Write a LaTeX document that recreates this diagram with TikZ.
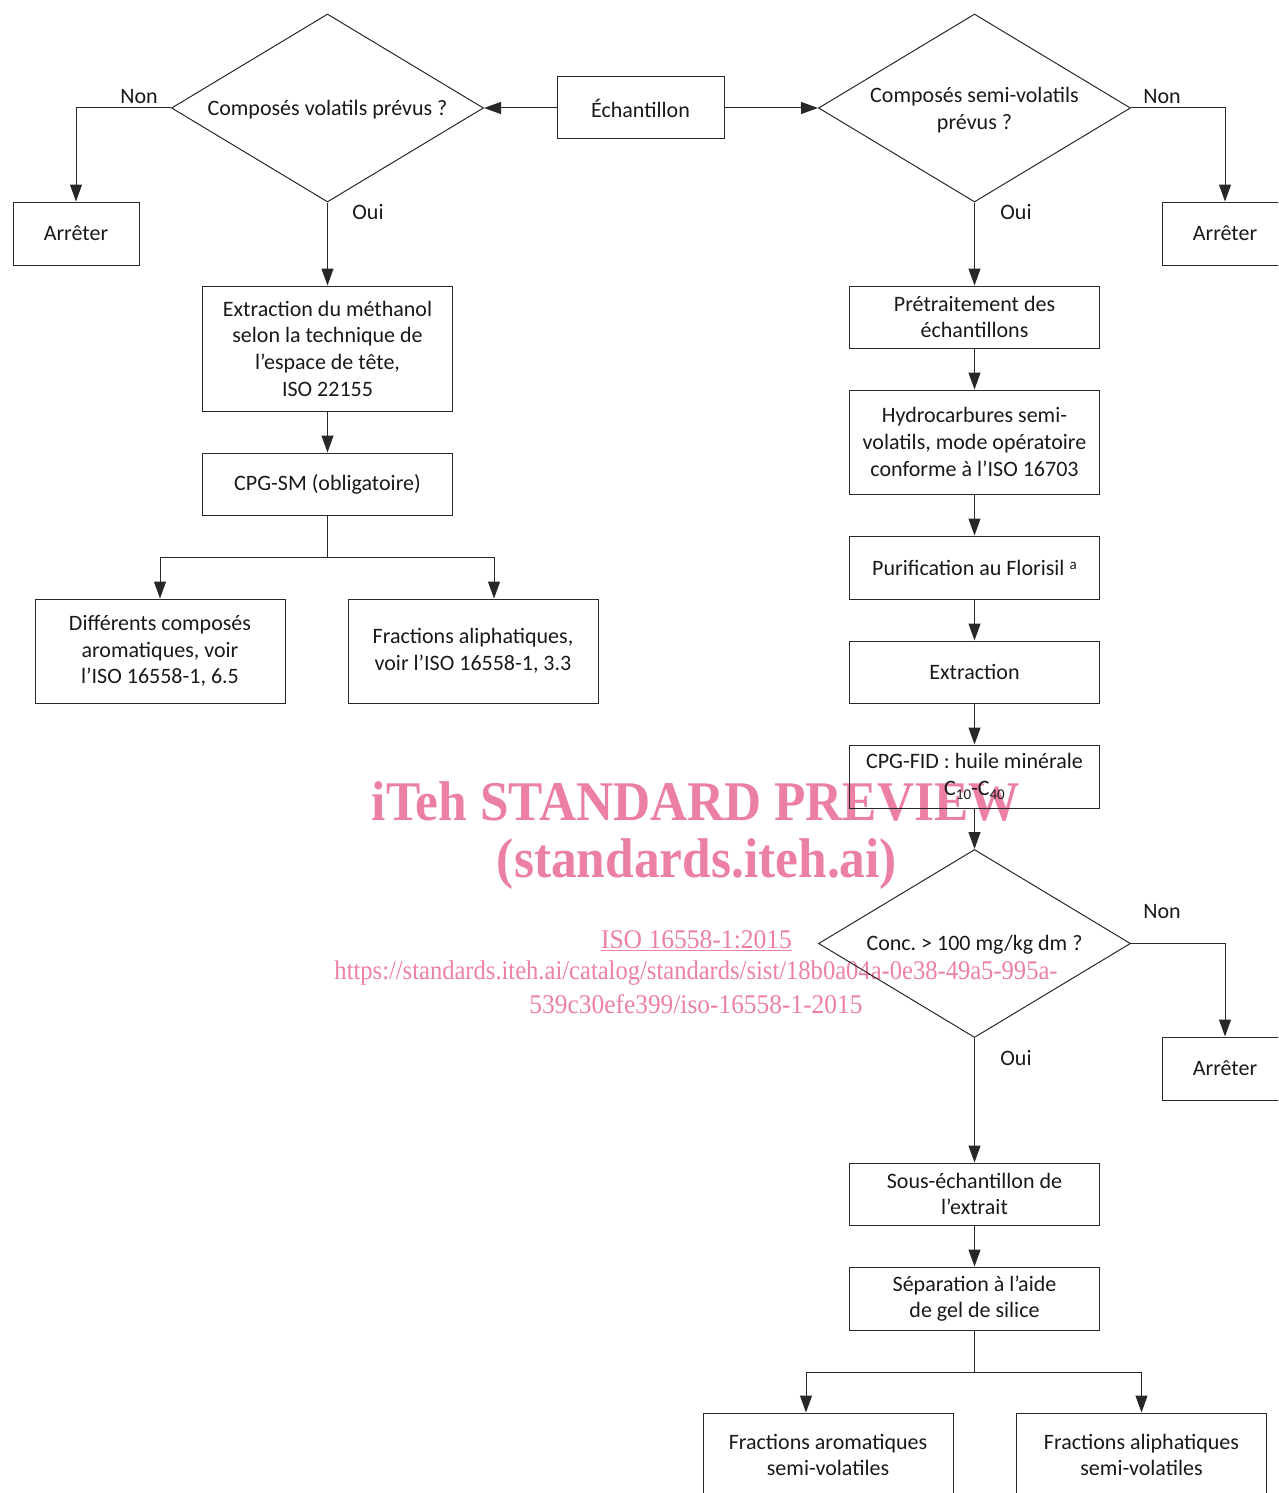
\documentclass[tikz,border=0pt]{standalone}
\usepackage{fontspec}
\usepackage{graphicx}
\setmainfont{Carlito}
\newfontfamily\wmfont{Liberation Serif}
\usetikzlibrary{arrows.meta,shapes.geometric,calc}
\definecolor{ln}{RGB}{40,40,40}
\definecolor{wm}{RGB}{236,128,163}
\tikzset{
  box/.style={draw=ln,line width=1pt,rectangle,minimum width=250pt,align=center,inner sep=0pt,font=\fontsize{22}{26.7}\selectfont,text=black!90},
  dia/.style={draw=ln,line width=1pt,diamond,minimum width=312pt,minimum height=188pt,inner sep=0pt},
  dtxt/.style={align=center,font=\fontsize{22}{26.7}\selectfont,text=black!90},
  lbl/.style={font=\fontsize{22}{26.7}\selectfont,text=black!90,inner sep=0pt},
  arr/.style={draw=ln,line width=1pt,-{Triangle[length=17pt,width=12pt]}},
  ln/.style={draw=ln,line width=1pt},
  wmt/.style={text=wm,inner sep=0pt}
}
\begin{document}
\begin{tikzpicture}[x=1pt,y=-1pt]
\useasboundingbox (0,0) rectangle (1278,1493);
\clip (0,0) rectangle (1278,1493);
% watermark (underneath)
\node[wmt] (w1) at (696,801) {\resizebox{648pt}{\height}{\wmfont\bfseries\fontsize{56}{60}\selectfont iTeh STANDARD PREVIEW}};
\node[wmt] (w2) at (697,864) {\resizebox{400pt}{\height}{\wmfont\bfseries\fontsize{56}{60}\selectfont (standards.iteh.ai)}};
\node[wmt] (w3) at (696.5,941) {\resizebox{191pt}{\height}{\wmfont\fontsize{27}{30}\selectfont\underline{ISO 16558-1:2015}}};
\node[wmt] (w4) at (696,973) {\resizebox{723pt}{\height}{\wmfont\fontsize{27}{30}\selectfont https://standards.iteh.ai/catalog/standards/sist/18b0a04a-0e38-49a5-995a-}};
\node[wmt] (w5) at (696,1004) {\resizebox{333pt}{\height}{\wmfont\fontsize{27}{30}\selectfont 539c30efe399/iso-16558-1-2015}};
% top row
\node[dia] (d1) at (327.5,108) {};
\node[dtxt] at (327.5,110) {Composés volatils prévus ?};
\node[box,minimum width=167pt,minimum height=62pt] (ech) at (640.5,108) {Échantillon};
\node[dia] (d2) at (974.5,108) {};
\node[dtxt] at (974.5,110) {Composés semi-volatils\\prévus ?};
\node[box,minimum width=126pt,minimum height=63pt] (arr1) at (76,233.5) {Arrêter};
\node[box,minimum width=126pt,minimum height=63pt] (arr2) at (1225,233.5) {Arrêter};
% left column
\node[box,minimum height=125pt] (ext) at (327.5,348.5) {Extraction du méthanol\\selon la technique de\\l’espace de tête,\\ISO 22155};
\node[box,minimum height=62pt] (cpgsm) at (327.5,484) {CPG-SM (obligatoire)};
\node[box,minimum height=104pt] (diff) at (160,651) {Différents composés\\aromatiques, voir\\l’ISO 16558-1, 6.5};
\node[box,minimum height=104pt] (fral) at (473,651) {Fractions aliphatiques,\\voir l’ISO 16558-1, 3.3};
\coordinate (bl) at (327.5,557);
% right column
\node[box,minimum height=62pt] (pre) at (974.5,317) {Prétraitement des\\échantillons};
\node[box,minimum height=104pt] (hyd) at (974.5,442) {Hydrocarbures semi-\\volatils, mode opératoire\\conforme à l’ISO 16703};
\node[box,minimum height=63pt] (pur) at (974.5,567.5) {Purification au Florisil \raisebox{0.55ex}{\fontsize{15}{15}\selectfont a}};
\node[box,minimum height=62pt] (extr) at (974.5,672) {Extraction};
\node[box,minimum height=63pt] (fid) at (974.5,776.5) {CPG-FID : huile minérale\\C\raisebox{-0.35ex}{\fontsize{15}{15}\selectfont 10}-C\raisebox{-0.35ex}{\fontsize{15}{15}\selectfont 40}};
\node[dia] (d3) at (974.5,943.5) {};
\node[dtxt] at (974.5,945) {Conc.\ > 100 mg/kg dm ?};
\node[box,minimum width=126pt,minimum height=63pt] (arr3) at (1225,1068.5) {Arrêter};
\node[box,minimum height=62pt] (sous) at (974.5,1194) {Sous-échantillon de\\l’extrait};
\node[box,minimum height=63pt] (sep) at (974.5,1298.5) {Séparation à l’aide\\de gel de silice};
\node[box,minimum height=104pt] (fa) at (828,1465) {};
\node[dtxt] at (828,1455) {Fractions aromatiques\\semi-volatiles};
\node[box,minimum height=104pt] (fb) at (1141.5,1465) {};
\node[dtxt] at (1141.5,1455) {Fractions aliphatiques\\semi-volatiles};
\coordinate (br) at (974.5,1372);
% labels
\node[lbl] at (139,97) {Non};
\node[lbl] at (368,212) {Oui};
\node[lbl] at (1162,97) {Non};
\node[lbl] at (1016,212) {Oui};
\node[lbl] at (1162,912) {Non};
\node[lbl] at (1016,1058) {Oui};
% connectors
\draw[arr] (ech.west) -- (d1.east);
\draw[arr] (ech.east) -- (d2.west);
\draw[arr] (d1.west) -| (arr1.north);
\draw[arr] (d2.east) -| (arr2.north);
\draw[arr] (d1.south) -- (ext.north);
\draw[arr] (ext.south) -- (cpgsm.north);
\draw[ln] (cpgsm.south) -- (bl);
\draw[arr] (bl) -| (diff.north);
\draw[arr] (bl) -| ($(fral.north)+(21,0)$);
\draw[arr] (d2.south) -- (pre.north);
\draw[arr] (pre.south) -- (hyd.north);
\draw[arr] (hyd.south) -- (pur.north);
\draw[arr] (pur.south) -- (extr.north);
\draw[arr] (extr.south) -- (fid.north);
\draw[arr] (fid.south) -- (d3.north);
\draw[arr] (d3.east) -| (arr3.north);
\draw[arr] (d3.south) -- (sous.north);
\draw[arr] (sous.south) -- (sep.north);
\draw[ln] (sep.south) -- (br);
\draw[arr] (br) -| ($(fa.north)+(-22,0)$);
\draw[arr] (br) -| (fb.north);
\end{tikzpicture}
\end{document}
